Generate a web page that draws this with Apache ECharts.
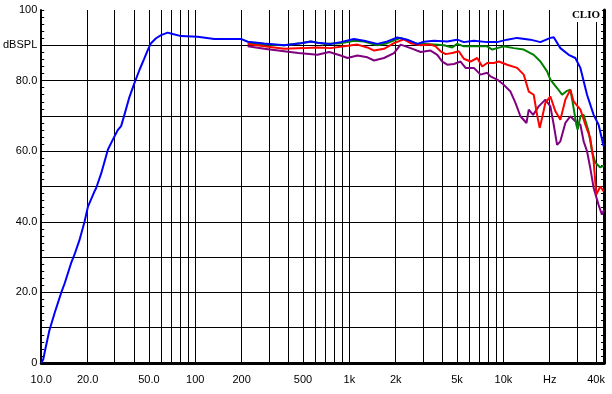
<!DOCTYPE html>
<html>
<head>
<meta charset="utf-8">
<script src="https://cdn.jsdelivr.net/npm/echarts@6/dist/echarts.min.js"></script>
<style>
html,body{margin:0;padding:0;background:#fff;}
#c{width:612px;height:394px;}
</style>
</head>
<body>
<div id="c"></div>
<script>
// ---- data (frequency in Hz, level in dBSPL) ----
const blueData = [[10,0],[10.3,1],[10.6,3.7],[11.3,9.3],[12.2,14.1],[13.5,20],[14.2,22.6],[15.6,28.2],[16.4,30.6],[17.7,34.8],[19.1,40],[20.1,44.3],[22.1,48.5],[22.7,49.5],[24.5,53.7],[27.1,60.5],[29.1,63.2],[31.4,66],[33,67.1],[34.4,69.8],[37.4,75.4],[40.2,79.2],[43.4,83],[46.7,86.3],[49.2,88.7],[51.6,90.6],[55.6,92],[60,92.9],[66.2,93.6],[71.4,93.2],[80.8,92.6],[103.7,92.4],[132.8,91.8],[170.4,91.8],[197.8,91.8],[219,91.0],[280,90.5],[377,90.0],[484,90.6],[562,91.1],[621,90.7],[757,90.4],[879,90.9],[1072,91.8],[1245,91.3],[1521,90.4],[1766,91.1],[2050,92.2],[2379,91.6],[2762,90.4],[3049,91.0],[3541,91.3],[4324,91.1],[5015,91.6],[5538,90.9],[6430,91.3],[7852,90.9],[9117,90.9],[10580,91.6],[12280,92.1],[14990,91.6],[17390,90.9],[20190,92.1],[21220,92.3],[23440,89.2],[26540,87.3],[29310,86.4],[31620,83.6],[34920,76],[38550,70.3],[41500,67.5],[44750,61.4]];
const greenData = [[219,90.6],[280,90.2],[377,90.0],[484,90.6],[562,91.1],[686,90.4],[879,90.6],[1072,91.3],[1245,91.1],[1521,90.0],[1766,90.6],[2153,92.1],[2500,91.1],[2762,90.4],[3049,90.4],[3541,90.2],[4110,90.0],[4659,89.4],[5015,90.4],[5538,89.7],[6761,89.7],[7852,89.7],[8457,88.8],[9117,89.2],[10060,89.7],[11680,89.2],[13560,88.8],[15740,87.3],[17390,85.4],[19220,82.6],[20190,80.3],[22320,77.9],[24050,76],[25900,77.1],[27220,77.4],[28330,73.2],[29770,67.5],[30360,66.1],[31620,69.9],[33200,70.3],[35760,65.6],[37590,60],[39530,56.7],[42560,55.4],[45000,56]];
const redData = [[219,90.4],[280,89.7],[377,89.0],[509,89.2],[621,89.4],[757,89.2],[924,89.7],[1128,90.2],[1310,89.4],[1446,88.5],[1679,89.0],[1949,90.6],[2262,91.7],[2500,90.6],[2903,90.0],[3370,90.2],[3631,89.7],[3911,88.3],[4217,87.5],[4659,87.8],[5140,88.3],[5538,86.2],[6119,85.4],[6761,86.4],[7290,84.0],[7852,85.0],[8668,85.0],[9340,85.4],[10580,84.5],[12280,83.6],[13560,81.7],[14610,76.9],[15740,76.0],[16550,70.3],[17210,66.6],[17830,69.4],[18740,73.7],[20190,75.5],[21770,71.3],[23440,68.9],[25250,74.6],[27220,77.4],[28580,74.1],[31620,71.8],[34050,67.5],[36660,63.7],[38550,57.1],[40120,47.7],[42560,50],[44750,48.6]];
const purpleData = [[219,89.7],[280,89.0],[377,88.3],[467,87.8],[621,87.3],[740,88.1],[879,87.1],[972,86.4],[1128,87.1],[1310,86.6],[1446,85.7],[1679,86.4],[1949,87.8],[2153,90.2],[2500,89.2],[2903,88.1],[3370,88.5],[3724,87.3],[4011,85.4],[4324,84.5],[4775,84.7],[5272,85.4],[5680,83.6],[6430,83.6],[7107,81.7],[7852,82.2],[8245,81.2],[9117,80.3],[10060,78.8],[11120,76.9],[11980,73.7],[12900,69.9],[14120,68.0],[14610,71.8],[15600,70.3],[16950,72.7],[18740,74.6],[20190,72.7],[21220,67.5],[22320,61.8],[23440,62.8],[25250,68.0],[27220,69.9],[29310,68.5],[31620,67.5],[33200,62.8],[34920,60],[36660,55.2],[38550,49.6],[41500,44.8],[43640,42],[45000,43.4]];

// ---- axis ticks / labels ----
const xGridValues = [10,20,30,40,50,60,70,80,90,100,200,300,400,500,600,700,800,900,1000,2000,3000,4000,5000,6000,7000,8000,9000,10000,20000,30000,40000];
const xLabelValues = [10,20,50,100,200,500,1000,2000,5000,10000,20000,40000];
const xLabelTexts = ['10.0','20.0','50.0','100','200','500','1k','2k','5k','10k','Hz','40k'];
const yLabelValues = [0,20,40,60,80,90,100];
const yLabelTexts = ['0','20.0','40.0','60.0','80.0','dBSPL','100'];

const FONT = '"Liberation Sans", Arial, sans-serif';
const chart = echarts.init(document.getElementById('c'), null, {renderer:'canvas'});

function xFmt(v){
  for (let i=0;i<xLabelValues.length;i++){ if (Math.abs(v-xLabelValues[i])/xLabelValues[i] < 1e-3) return xLabelTexts[i]; }
  return '';
}
function yFmt(v){
  for (let i=0;i<yLabelValues.length;i++){ if (Math.abs(v-yLabelValues[i]) < 1e-6) return yLabelTexts[i]; }
  return '';
}

const mkSeries = (name, data, color) => ({
  name, type:'line', data, showSymbol:false, symbol:'none', smooth:false,
  lineStyle:{color, width:2}, itemStyle:{color}, clip:true, animation:false
});

chart.setOption({
  animation:false,
  backgroundColor:'#fff',
  grid:{left:40, right:8, top:10, bottom:31, containLabel:false},
  xAxis:{
    type:'log', logBase:10, min:10, max:45000,
    axisLine:{show:true, onZero:false, lineStyle:{color:'#000', width:3}},
    axisTick:{show:false, customValues:xGridValues},
    axisLabel:{customValues:xLabelValues, formatter:xFmt, color:'#000', fontFamily:FONT, fontSize:11, margin:11, showMinLabel:true, showMaxLabel:true, hideOverlap:false},
    splitLine:{show:true, showMinLine:false, lineStyle:{color:'#000', width:1}},
    minorSplitLine:{show:false}
  },
  yAxis:[{
    type:'value', min:0, max:100, interval:10, position:'left',
    axisLine:{show:true, onZero:false, lineStyle:{color:'#000', width:2}},
    axisTick:{show:true, inside:true, length:3, lineStyle:{color:'#000', width:1}},
    minorTick:{show:true, splitNumber:5, length:3, lineStyle:{color:'#000', width:1}},
    axisLabel:{formatter:yFmt, color:'#000', fontFamily:FONT, fontSize:11, margin:4, showMinLabel:true, showMaxLabel:true},
    splitLine:{show:true, showMinLine:false, showMaxLine:false, lineStyle:{color:'#000', width:1}}
  },{
    type:'value', min:0, max:100, interval:10, position:'right',
    axisLine:{show:true, onZero:false, lineStyle:{color:'#000', width:3}},
    axisTick:{show:true, inside:true, length:3, lineStyle:{color:'#000', width:1}},
    minorTick:{show:true, splitNumber:5, length:3, lineStyle:{color:'#000', width:1}},
    axisLabel:{show:false},
    splitLine:{show:false}
  }],
  graphic:[{
    type:'text', right:10, top:9, z:100,
    style:{text:'CLIO', font:'bold 11px "Liberation Serif", "DejaVu Serif", serif', fill:'#000', backgroundColor:'#fff', padding:[1,2,1,2]}
  }],
  series:[
    mkSeries('purple', purpleData, '#800080'),
    mkSeries('green', greenData, '#008000'),
    mkSeries('red', redData, '#ff0000'),
    mkSeries('blue', blueData, '#0000ff')
  ]
});
</script>
</body>
</html>
